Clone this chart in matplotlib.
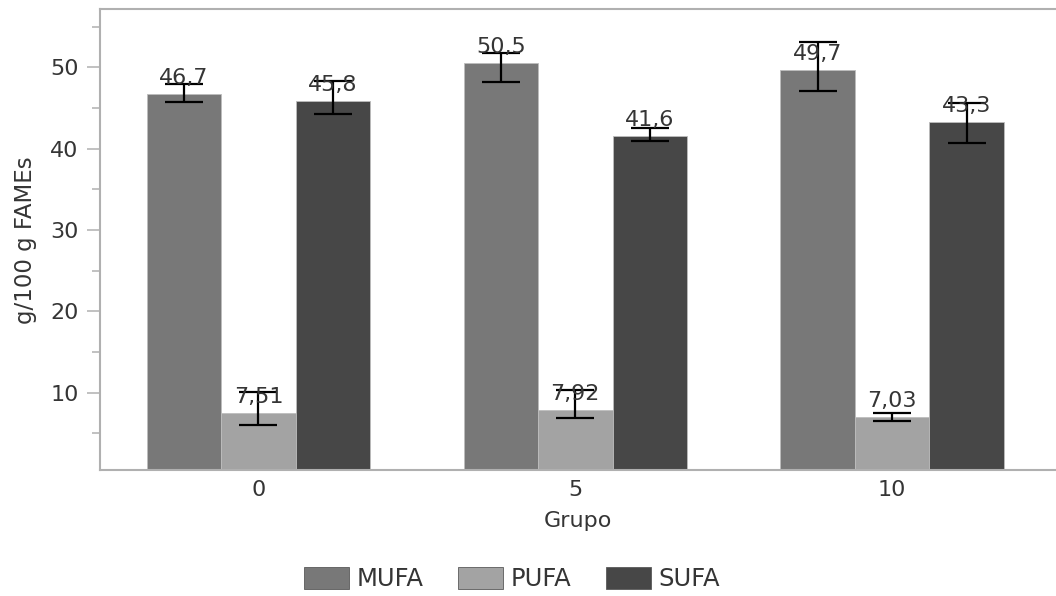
import numpy as np
import matplotlib
matplotlib.use("Agg")
import matplotlib.pyplot as plt
from matplotlib.patches import Patch

# Fatty-acid profile per group (g/100 g FAMEs)
groups = ["0", "5", "10"]
series = ["MUFA", "PUFA", "SUFA"]
mufa = [46.7, 50.5, 49.7]
pufa = [7.51, 7.92, 7.03]
sufa = [45.8, 41.6, 43.3]

# Interval bounds shown by the error bars
mufa_low = [45.7, 48.2, 47.1]
mufa_high = [47.9, 51.7, 53.15]
pufa_low = [6.03, 6.85, 6.56]
pufa_high = [10.05, 10.33, 7.54]
sufa_low = [44.3, 41.0, 40.65]
sufa_high = [48.3, 42.5, 45.6]

colors = ["#787878", "#a3a3a3", "#474747"]
text_color = "#353535"
frame_color = "#b0b0b0"
fs = 16

plt.rcParams["font.family"] = ["DejaVu Sans"]

W, H = 1056, 596
fig = plt.figure(figsize=(W / 100, H / 100), dpi=100)
ax = fig.add_axes([100 / W, (H - 470) / H, (W - 100) / W, (470 - 9) / H])

x = np.arange(len(groups))
bw = 0.235
values = [mufa, pufa, sufa]
lows = [mufa_low, pufa_low, sufa_low]
highs = [mufa_high, pufa_high, sufa_high]

for i, (vals, lo, hi, col) in enumerate(zip(values, lows, highs, colors)):
    xs = x + (i - 1) * bw
    ax.bar(xs, vals, width=bw, color=col, edgecolor="#bdbdbd", linewidth=0.6, zorder=2)
    v = np.array(vals)
    yerr = [v - np.array(lo), np.array(hi) - v]
    ax.errorbar(xs, v, yerr=yerr, fmt="none", ecolor="black", elinewidth=1.6,
                capsize=13.7, capthick=1.6, zorder=3)
    for xi, vi in zip(xs, vals):
        ax.annotate(f"{vi:g}".replace(".", ","), (xi, vi), xytext=(0, 10),
                    textcoords="offset pixels", ha="center", va="baseline",
                    fontsize=fs, color=text_color, zorder=4)

ax.set_xlim(-0.5, 2.517)
ax.set_ylim(0.5, 57.17)
ax.set_xticks(x)
ax.set_xticklabels(groups)
ax.set_yticks([10, 20, 30, 40, 50])
ax.set_yticks(np.arange(5, 56, 10), minor=True)

ax.tick_params(axis="y", which="major", length=9.4, width=1.1, color=frame_color,
               labelsize=fs, labelcolor=text_color, pad=6)
ax.tick_params(axis="y", which="minor", length=5.8, width=1.1, color=frame_color)
ax.tick_params(axis="x", length=0, labelsize=fs, labelcolor=text_color, pad=7)

for side in ["left", "bottom", "top"]:
    ax.spines[side].set_color(frame_color)
    ax.spines[side].set_linewidth(1.5)
ax.spines["right"].set_visible(False)

ax.set_xlabel("Grupo", fontsize=fs, color=text_color, labelpad=8)
fig.text(26 / W, 1 - 240 / H, "g/100 g FAMEs", rotation=90, ha="center", va="center",
         fontsize=16.5, color=text_color)

handles = [Patch(facecolor=c, edgecolor="#5a5a5a", linewidth=0.6) for c in colors]
fig.legend(handles, series, loc="center", bbox_to_anchor=(512 / W, 1 - 579 / H),
           ncol=3, frameon=False, fontsize=17.5, handlelength=1.85, handleheight=1.0,
           handletextpad=0.28, columnspacing=1.45, labelcolor=text_color)

fig.savefig("out.png", dpi=100)
